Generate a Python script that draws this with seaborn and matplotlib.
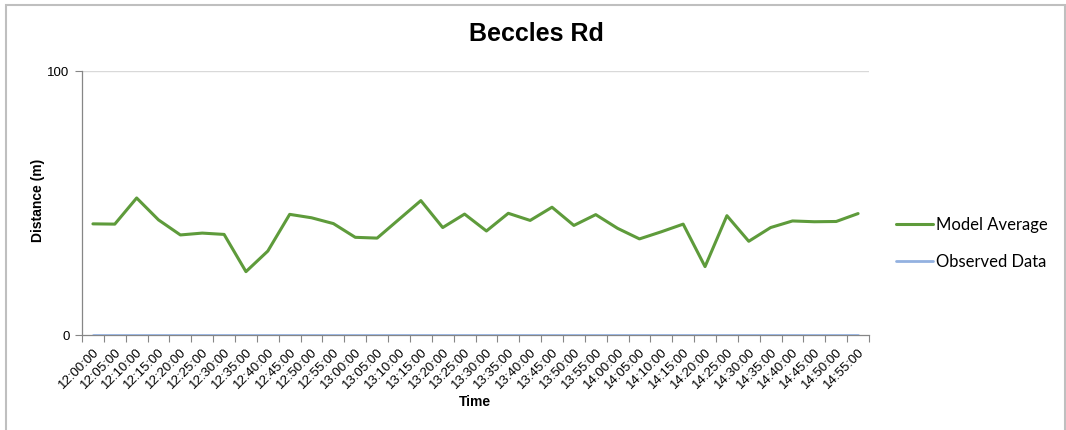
import matplotlib
matplotlib.use("Agg")
import matplotlib.pyplot as plt
import matplotlib.patches as mpatches
from matplotlib.ticker import FixedLocator
import numpy as np
import pandas as pd
import seaborn as sns

# ---------------- Data ----------------
times = ["12:00:00", "12:05:00", "12:10:00", "12:15:00", "12:20:00", "12:25:00",
         "12:30:00", "12:35:00", "12:40:00", "12:45:00", "12:50:00", "12:55:00",
         "13:00:00", "13:05:00", "13:10:00", "13:15:00", "13:20:00", "13:25:00",
         "13:30:00", "13:35:00", "13:40:00", "13:45:00", "13:50:00", "13:55:00",
         "14:00:00", "14:05:00", "14:10:00", "14:15:00", "14:20:00", "14:25:00",
         "14:30:00", "14:35:00", "14:40:00", "14:45:00", "14:50:00", "14:55:00"]
model_average = [42.1, 42.0, 51.9, 43.6, 37.9, 38.6, 38.1, 24.0, 31.8, 45.7, 44.4, 42.2,
                 37.0, 36.7, 43.8, 50.9, 40.7, 45.8, 39.4, 46.1, 43.4, 48.4, 41.5, 45.6,
                 40.4, 36.4, 39.1, 42.0, 25.9, 45.2, 35.5, 40.7, 43.2, 42.9, 43.0, 46.0]
observed_data = [0.0] * len(times)
series_names = ["Model Average", "Observed Data"]
series_colors = ["#5E9B3B", "#93B1E0"]

df = pd.DataFrame({
    "pos": list(range(len(times))) * 2,
    "Distance": model_average + observed_data,
    "Series": [series_names[0]] * len(times) + [series_names[1]] * len(times),
})

sns.set_style("white")
plt.rcParams["font.family"] = ["Liberation Sans", "DejaVu Sans"]
plt.rcParams["text.color"] = "black"
plt.rcParams["xtick.color"] = "black"
plt.rcParams["ytick.color"] = "black"

fig = plt.figure(figsize=(10.66, 4.30), dpi=100)
ax = fig.add_axes([82 / 1066, 1 - 335 / 430, (869 - 82) / 1066, (335 - 71) / 430])

sns.lineplot(data=df, x="pos", y="Distance", hue="Series", hue_order=series_names,
             palette=series_colors, ax=ax, legend=False, linewidth=2.2)
ax.lines[1].set_linewidth(2.0)
ax.lines[1].set_zorder(3)

# ---------------- Axes styling (Excel look) ----------------
n = len(times)
ax.set_xlim(-0.5, n - 0.5)
ax.set_ylim(0, 100)
ax.set_xticks(range(n))
ax.set_xticklabels(times, rotation=45, ha="right", rotation_mode="anchor", fontsize=9.5)
ax.tick_params(axis="x", which="major", bottom=True, length=0, pad=8)
ax.xaxis.set_minor_locator(FixedLocator(np.arange(-0.5, n, 1.0)))
ax.tick_params(axis="x", which="minor", bottom=True, length=5, width=0.8,
               color="#868686", direction="out")
ax.set_yticks([0, 100])
ax.set_yticklabels(["0", "100"], fontsize=9.5)
ax.tick_params(axis="y", left=True, length=5, width=0.8, color="#868686",
               labelcolor="black", direction="out", pad=4)
ax.axhline(100, color="#D9D9D9", linewidth=1.0, zorder=0)
for side in ["top", "right"]:
    ax.spines[side].set_visible(False)
for side in ["left", "bottom"]:
    ax.spines[side].set_color("#868686")
    ax.spines[side].set_linewidth(0.9)
ax.set_xlabel("")
ax.set_ylabel("")

fig.text(475 / 1066, 1 - 402 / 430, "Time", ha="center", va="center",
         fontsize=10, fontweight="bold")
fig.text(38 / 1066, 1 - 200 / 430, "Distance (m)", ha="center", va="center",
         rotation=90, fontsize=10, fontweight="bold")
fig.text(536 / 1066, 1 - 34 / 430, "Beccles Rd", ha="center", va="center",
         fontsize=18, fontweight="bold")

# legend on the right
handles = [plt.Line2D([], [], color=series_colors[0], linewidth=2.2),
           plt.Line2D([], [], color=series_colors[1], linewidth=2.0)]
fig.legend(handles, series_names, loc="upper left",
           bbox_to_anchor=(896 / 1066, 1 - 217 / 430), frameon=False,
           borderpad=0, borderaxespad=0, handlelength=2.2, handletextpad=0.2,
           labelspacing=1.25, prop={"family": ["Lato", "DejaVu Sans"], "size": 12})

# chart border
fig.patches.append(mpatches.Rectangle((6 / 1066, -0.05), (1065 - 6) / 1066, 1 - 5 / 430 + 0.05,
                                      transform=fig.transFigure, fill=False,
                                      edgecolor="#BFBFBF", linewidth=1.5))

fig.savefig("out.png", dpi=100)
